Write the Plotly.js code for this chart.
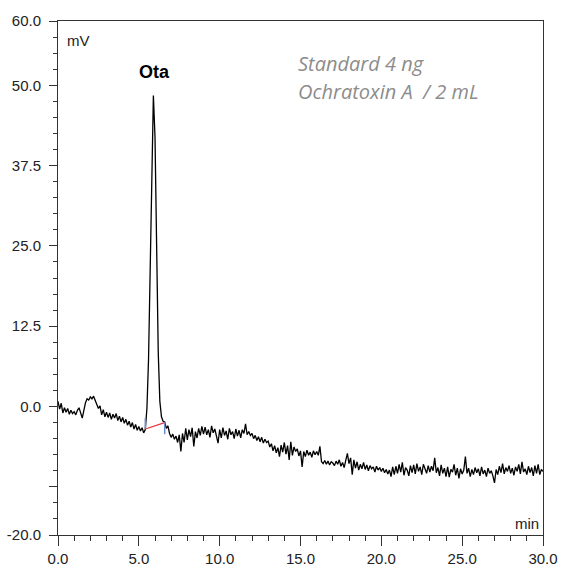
<!DOCTYPE html>
<html>
<head>
<meta charset="utf-8">
<script src="https://cdn.plot.ly/plotly-3.0.1.min.js"></script>
<style>html,body{margin:0;padding:0;background:#fff;}#chart{width:562px;height:566px;}</style>
</head>
<body>
<div id="chart"></div>
<script>
// Sampling: start time and step (min)
var timeStart = 0.0;
var timeStep = 0.1;
// Detector signal (mV), one row per minute
var signal = [
  0.8, -0.4, 0.5, -1.0, -0.2, -0.9, -0.3, -1.2, -0.6, -1.1,
  -0.8, -1.3, -0.6, -0.2, -1.0, -1.8, -0.6, 0.6, 1.2, 1.0,
  1.5, 1.2, 1.6, 0.9, 0.4, -0.3, 0.1, -1.3, -0.5, -1.6,
  -0.9, -1.7, -1.0, -2.0, -1.2, -1.8, -1.1, -2.2, -1.5, -2.4,
  -1.7, -2.6, -2.0, -2.9, -2.3, -3.2, -2.5, -3.5, -2.8, -3.7,
  -3.1, -3.8, -3.3, -4.1, -3.6, -0.3, 7.3, 22.4, 40.2, 48.4,
  42.0, 23.5, 8.5, 0.8, -1.6, -2.3, -2.4, -3.4, -3.0, -4.2,
  -4.8, -4.3, -5.1, -4.6, -5.6, -4.4, -7.0, -4.2, -5.6, -3.4,
  -5.2, -3.6, -4.7, -3.3, -6.2, -3.9, -4.9, -3.4, -4.5, -3.1,
  -4.3, -3.2, -4.4, -3.6, -4.8, -3.0, -4.1, -3.5, -4.6, -5.7,
  -3.6, -4.9, -3.3, -4.5, -3.8, -5.1, -3.4, -4.4, -3.9, -5.0,
  -3.5, -4.6, -3.7, -4.9, -3.6, -4.2, -2.7, -4.4, -3.9, -4.5,
  -4.2, -5.0, -4.5, -5.3, -4.7, -5.5, -4.8, -5.7, -5.1, -5.6,
  -5.4, -6.3, -5.8, -6.9, -6.1, -7.2, -6.4, -7.8, -6.0, -7.1,
  -5.6, -7.4, -6.1, -8.3, -5.5, -7.6, -6.3, -7.0, -6.6, -7.7,
  -6.9, -9.4, -7.0, -7.8, -6.8, -7.6, -7.1, -7.9, -6.9, -7.5,
  -7.0, -7.6, -6.2, -8.6, -8.9, -8.4, -9.0, -8.5, -9.1, -8.6,
  -8.8, -9.2, -8.5, -9.0, -8.3, -9.3, -8.7, -9.5, -8.4, -7.3,
  -8.9, -8.0, -10.6, -8.3, -9.6, -8.6, -9.9, -9.0, -9.7, -8.7,
  -9.8, -9.1, -10.0, -9.2, -9.7, -9.4, -10.2, -9.3, -9.9, -9.5,
  -10.1, -9.6, -10.3, -9.8, -10.5, -9.9, -10.9, -9.4, -10.6, -9.3,
  -10.4, -9.0, -10.2, -8.7, -10.7, -9.5, -9.9, -10.8, -9.2, -10.3,
  -9.1, -10.5, -8.9, -10.1, -9.4, -10.6, -9.0, -9.9, -10.4, -9.2,
  -10.2, -9.3, -10.0, -8.0, -10.3, -9.5, -10.8, -9.1, -10.4, -9.6,
  -10.9, -9.4, -11.0, -9.8, -10.2, -9.0, -10.7, -9.6, -11.2, -9.7,
  -10.5, -9.9, -7.8, -10.4, -9.6, -10.9, -9.8, -10.6, -9.5, -10.3,
  -9.7, -10.8, -9.4, -10.5, -9.9, -10.9, -9.6, -10.4, -10.0, -10.8,
  -11.9, -9.8, -10.6, -9.3, -10.3, -8.9, -10.5, -9.5, -10.1, -9.2,
  -10.4, -9.6, -10.7, -9.4, -10.1, -9.0, -10.5, -8.6, -10.2, -9.7,
  -10.6, -9.3, -10.3, -9.5, -10.8, -9.2, -10.4, -9.0, -10.6, -9.8,
  -10.1
];
// Peak integration baseline (start, end)
var baseTimes = [5.4, 6.6];
var baseLevels = [-3.5, -2.5];
// Peak delimiter marks (vertical spans)
var startMarkY = [-3.5, -1.8];
var endMarkY = [-2.5, -4.3];
// Peak label
var peakName = 'Ota';
var peakTime = 5.95;
var peakLabelLevel = 52.0;
// Axis ticks
var xTicks = [0, 5, 10, 15, 20, 25, 30];
var xTickText = ['0.0', '5.0', '10.0', '15.0', '20.0', '25.0', '30.0'];
var yTicks = [-20, -12.5, 0, 12.5, 25, 37.5, 50, 60];
var yTickText = ['-20.0', '', '0.0', '12.5', '25.0', '37.5', '50.0', '60.0'];
var sampleLines = ['Standard 4 ng', 'Ochratoxin A&nbsp; / 2 mL'];

var traces = [
  {type: 'scatter', mode: 'lines', x0: timeStart, dx: timeStep, y: signal,
   line: {color: '#000', width: 1.3}, hoverinfo: 'skip'},
  {type: 'scatter', mode: 'lines', x: baseTimes, y: baseLevels,
   line: {color: '#e8323c', width: 1.2}, hoverinfo: 'skip'},
  {type: 'scatter', mode: 'lines', x: [baseTimes[0], baseTimes[0]], y: startMarkY,
   line: {color: '#6a8ccc', width: 1.5}, hoverinfo: 'skip'},
  {type: 'scatter', mode: 'lines', x: [baseTimes[1], baseTimes[1]], y: endMarkY,
   line: {color: '#6a8ccc', width: 1.5}, hoverinfo: 'skip'}
];

var tickFont = {family: 'Liberation Sans, Arial, sans-serif', size: 15, color: '#222'};
var layout = {
  width: 562, height: 566,
  margin: {l: 58, r: 19, t: 21, b: 31, pad: 0},
  paper_bgcolor: '#fff', plot_bgcolor: '#fff',
  showlegend: false,
  xaxis: {range: [0, 30], tickvals: xTicks, ticktext: xTickText,
    ticks: 'outside', ticklen: 10, tickwidth: 1, tickcolor: '#333',
    minor: {dtick: 1, tick0: 0, ticks: 'outside', ticklen: 5, tickwidth: 1, tickcolor: '#333', showgrid: false},
    showline: true, linecolor: '#333', linewidth: 1, mirror: true,
    showgrid: false, zeroline: false, tickfont: tickFont, fixedrange: true},
  yaxis: {range: [-20, 60], tickvals: yTicks, ticktext: yTickText,
    ticks: 'outside', ticklen: 8, tickwidth: 1, tickcolor: '#333', ticklabelstandoff: 5,
    minor: {dtick: 2.5, tick0: -20, ticks: 'outside', ticklen: 4, tickwidth: 1, tickcolor: '#333', showgrid: false},
    showline: true, linecolor: '#333', linewidth: 1, mirror: true,
    showgrid: false, zeroline: false, tickfont: tickFont, fixedrange: true},
  annotations: [
    {xref: 'paper', yref: 'paper', x: 0.015, y: 0.962, xanchor: 'left', yanchor: 'middle',
     text: 'mV', showarrow: false, font: {family: 'Liberation Sans, Arial, sans-serif', size: 15, color: '#222'}},
    {xref: 'paper', yref: 'paper', x: 0.995, y: 0.022, xanchor: 'right', yanchor: 'middle',
     text: 'min', showarrow: false, font: {family: 'Liberation Sans, Arial, sans-serif', size: 15, color: '#222'}},
    {xref: 'x', yref: 'y', x: peakTime, y: peakLabelLevel, xanchor: 'center', yanchor: 'middle',
     text: '<b>' + peakName + '</b>', showarrow: false, font: {family: 'Liberation Sans, Arial, sans-serif', size: 18, color: '#000'}},
    {xref: 'paper', yref: 'paper', x: 0.49, y: 0.918, xanchor: 'left', yanchor: 'middle',
     text: '<i>' + sampleLines[0] + '</i>', showarrow: false, font: {family: 'Open Sans, sans-serif', size: 20, color: '#8c8c8c'}},
    {xref: 'paper', yref: 'paper', x: 0.49, y: 0.863, xanchor: 'left', yanchor: 'middle',
     text: '<i>' + sampleLines[1] + '</i>', showarrow: false, font: {family: 'Open Sans, sans-serif', size: 20, color: '#8c8c8c'}}
  ]
};
Plotly.newPlot('chart', traces, layout, {displayModeBar: false, staticPlot: true});
</script>
</body>
</html>
